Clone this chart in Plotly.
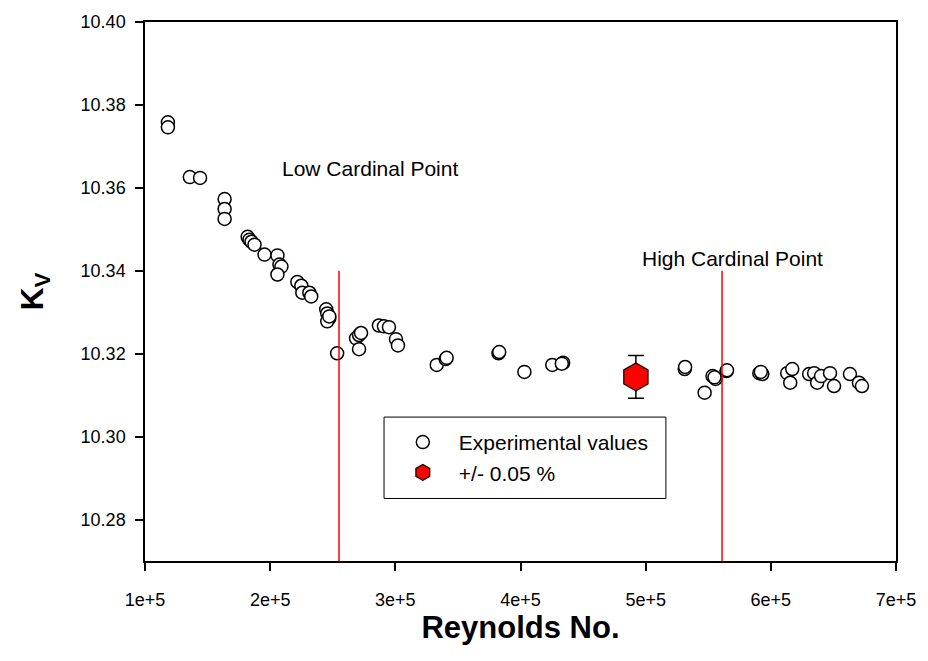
import plotly.graph_objects as go

# ---------------- data ----------------
re_exp = [1.183e5, 1.183e5,
          1.358e5, 1.44e5,
          1.636e5, 1.636e5, 1.636e5,
          1.82e5, 1.835e5, 1.851e5, 1.875e5,
          1.955e5,
          2.058e5, 2.074e5, 2.09e5, 2.058e5,
          2.217e5, 2.249e5, 2.257e5, 2.313e5, 2.328e5,
          2.448e5, 2.456e5, 2.472e5, 2.456e5, 2.472e5,
          2.535e5,
          2.686e5, 2.71e5, 2.726e5, 2.71e5,
          2.869e5, 2.909e5, 2.949e5,
          3.005e5, 3.021e5,
          3.331e5, 3.402e5, 3.41e5,
          3.824e5, 3.83e5,
          4.031e5,
          4.254e5, 4.341e5, 4.33e5,
          4.92e5,
          5.312e5, 5.315e5,
          5.471e5,
          5.534e5, 5.558e5, 5.55e5,
          5.646e5, 5.65e5,
          5.908e5, 5.932e5, 5.92e5,
          6.131e5, 6.171e5, 6.155e5,
          6.306e5, 6.346e5, 6.37e5, 6.401e5, 6.473e5, 6.505e5,
          6.632e5, 6.704e5, 6.728e5]
kv_exp = [10.3758, 10.3746,
          10.3626, 10.3624,
          10.3573, 10.3549, 10.3525,
          10.3482, 10.3475, 10.3470, 10.3463,
          10.3439,
          10.3437, 10.3415, 10.3410, 10.3391,
          10.3373, 10.3364, 10.3347, 10.3347, 10.3338,
          10.3307, 10.3297, 10.3285, 10.3278, 10.3290,
          10.3201,
          10.3237, 10.3245, 10.3250, 10.3211,
          10.3268, 10.3266, 10.3264,
          10.3235, 10.3220,
          10.3173, 10.3187, 10.3190,
          10.3201, 10.3204,
          10.3156,
          10.3173, 10.3178, 10.3176,
          10.3155,
          10.3163, 10.3168,
          10.3106,
          10.3146, 10.3139, 10.3143,
          10.3158, 10.3160,
          10.3153, 10.3151, 10.3156,
          10.3153, 10.3163, 10.3130,
          10.3151, 10.3153, 10.3130, 10.3146, 10.3153, 10.3122,
          10.3151, 10.3130, 10.3122]

re_ref = [4.922e5]
kv_ref = [10.3144]
err_pct = 0.05

cardinal_re = [2.55e5, 5.61e5]
cardinal_top = 10.34
cardinal_labels = ["Low Cardinal Point", "High Cardinal Point"]
label_pos = [(2.80e5, 10.3647), (5.69e5, 10.343)]

x_ticks = [1e5, 2e5, 3e5, 4e5, 5e5, 6e5, 7e5]
x_ticktext = ["1e+5", "2e+5", "3e+5", "4e+5", "5e+5", "6e+5", "7e+5"]
y_ticks = [10.28, 10.30, 10.32, 10.34, 10.36, 10.38, 10.40]
x_range = [1e5, 7e5]
y_range = [10.27, 10.40]

FONT = "Liberation Sans, Arial, sans-serif"

fig = go.Figure()

fig.add_trace(go.Scatter(
    x=re_exp, y=kv_exp, mode="markers", name="Experimental values",
    marker=dict(symbol="circle", size=13, color="white",
                line=dict(color="black", width=1.5)),
))

fig.add_trace(go.Scatter(
    x=re_ref, y=kv_ref, mode="markers", name="+/- 0.05 %",
    marker=dict(symbol="hexagon", size=28, color="red",
                line=dict(color="black", width=1.2)),
    error_y=dict(type="percent", value=err_pct, color="black",
                 thickness=1.5, width=8),
))

for xv in cardinal_re:
    fig.add_shape(type="line", xref="x", yref="y",
                  x0=xv, x1=xv, y0=y_range[0], y1=cardinal_top,
                  line=dict(color="red", width=1.5))

for txt, (xa, ya) in zip(cardinal_labels, label_pos):
    fig.add_annotation(x=xa, y=ya, xref="x", yref="y", text=txt,
                       showarrow=False, font=dict(size=21, color="black", family=FONT))

# legend frame
fig.add_shape(type="rect", xref="paper", yref="paper",
              x0=0.3183, x1=0.6936, y0=0.116, y1=0.267,
              line=dict(color="black", width=1), fillcolor="white", layer="above")

fig.update_layout(
    width=928, height=661,
    margin=dict(l=145, r=29, t=18, b=100),
    paper_bgcolor="white", plot_bgcolor="white",
    font=dict(family=FONT, color="black", size=18),
    showlegend=True,
    legend=dict(x=0.322, y=0.258, xanchor="left", yanchor="top",
                bgcolor="rgba(0,0,0,0)", borderwidth=0,
                font=dict(size=21, family=FONT),
                itemwidth=62, tracegroupgap=0),
    xaxis=dict(range=x_range, tickvals=x_ticks, ticktext=x_ticktext,
               showgrid=False, zeroline=False, showline=True, mirror=True,
               linecolor="black", linewidth=1.5,
               ticks="outside", ticklen=8, tickwidth=1.5, tickcolor="black",
               tickfont=dict(size=18), ticklabelstandoff=14,
               title=dict(text="<b>Reynolds No.</b>", font=dict(size=31), standoff=6)),
    yaxis=dict(range=y_range, tickvals=y_ticks, tickformat=".2f",
               showgrid=False, zeroline=False, showline=True, mirror=True,
               linecolor="black", linewidth=1.5,
               ticks="outside", ticklen=8, tickwidth=1.5, tickcolor="black",
               tickfont=dict(size=18), ticklabelstandoff=6,
               title=dict(text="<b>K<sub>V</sub></b>", font=dict(size=32), standoff=27)),
)

fig.write_html("out.html")
